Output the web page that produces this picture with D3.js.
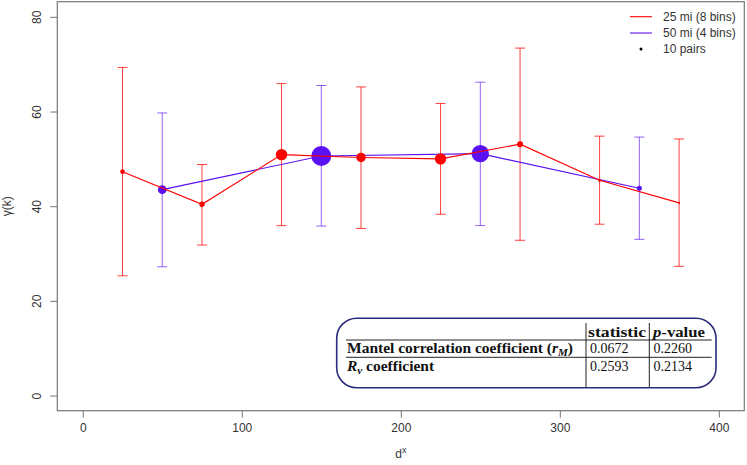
<!DOCTYPE html>
<html>
<head>
<meta charset="utf-8">
<script src="https://cdn.jsdelivr.net/npm/d3@7"></script>
<style>
html,body{margin:0;padding:0;background:#fff;}
svg{display:block;}
</style>
</head>
<body>
<svg id="chart" width="747" height="465"></svg>
<script>
// ---- data ----
const redX = [25, 75, 125, 175, 225, 275, 325, 375];
const redY = [47.3, 40.4, 50.9, 50.3, 50.0, 53.1, 45.5, 40.7];
const redLo = [25.3, 31.8, 35.9, 35.3, 38.3, 32.8, 36.2, 27.3];
const redHi = [69.3, 48.8, 65.9, 65.2, 61.7, 73.4, 54.8, 54.2];
const redPairs = [24, 32, 144, 98, 144, 40, 10, 5];

const blueX = [50, 150, 250, 350];
const blueY = [43.5, 50.6, 51.1, 43.8];
const blueLo = [27.2, 35.8, 35.9, 33.0];
const blueHi = [59.7, 65.5, 66.2, 54.6];
const bluePairs = [82, 444, 336, 28];

const xTicks = [0, 100, 200, 300, 400];
const yTicks = [0, 20, 40, 60, 80];
const legendLabels = ["25 mi (8 bins)", "50 mi (4 bins)", "10 pairs"];
const legendPairs = 10;

const tableHeader = ["statistic", "value"];
const tableStat = ["0.0672", "0.2593"];
const tablePval = ["0.2260", "0.2134"];

// ---- layout ----
const svg = d3.select("#chart");
const L = 57.3, R = 744.3, T = 1.7, B = 410.7;
const x = d3.scaleLinear().domain([-16, 416]).range([L, R]);
const y = d3.scaleLinear().domain([-3.2, 83.2]).range([B, T]);
const rScale = d3.scaleSqrt().domain([0, 10]).range([0, 1.5]).clamp(false);

const RED = "#ff0000", BLUE = "#5a10f2";
const AX = "#777777", TXT = "#333333";
const sans = "'Liberation Sans', Arial, Helvetica, sans-serif";
const serif = "'Liberation Serif', 'Times New Roman', serif";

// axes
const xAxis = svg.append("g").attr("transform", `translate(0,${B})`)
  .call(d3.axisBottom(x).tickValues(xTicks).tickSize(7).tickPadding(6).tickFormat(d3.format("d")));
const yAxis = svg.append("g").attr("transform", `translate(${L},0)`)
  .call(d3.axisLeft(y).tickValues(yTicks).tickSize(7).tickPadding(0).tickFormat(d3.format("d")));
[xAxis, yAxis].forEach(g => {
  g.select(".domain").remove();
  g.selectAll(".tick line").attr("stroke", AX);
  g.selectAll(".tick text").attr("fill", TXT).style("font-family", sans).style("font-size", "12px");
});
xAxis.selectAll(".tick text").attr("dy", "0.71em");
yAxis.selectAll(".tick text")
  .attr("text-anchor", "middle")
  .attr("x", 0)
  .attr("transform", "translate(-20.5,0) rotate(-90)")
  .attr("dy", "0.35em");

// box
svg.append("rect").attr("x", L).attr("y", T).attr("width", R - L).attr("height", B - T)
  .attr("fill", "none").attr("stroke", AX).attr("stroke-width", 1.2);

// axis titles
const xt = svg.append("text").attr("x", x(200)).attr("y", 458).attr("text-anchor", "middle")
  .attr("fill", TXT).style("font-family", sans).style("font-size", "12px");
xt.append("tspan").text("d");
xt.append("tspan").attr("dy", -5).style("font-size", "9px").text("x");

svg.append("text").attr("transform", `translate(11,${y(40)}) rotate(-90)`).attr("text-anchor", "middle")
  .attr("fill", TXT).style("font-family", sans).style("font-size", "12px").text("γ(k)");

// series drawing
function drawBars(xs, lo, hi, color, op) {
  const g = svg.append("g").attr("stroke", color).attr("stroke-width", 1).attr("stroke-opacity", op);
  xs.forEach((xv, i) => {
    g.append("line").attr("x1", x(xv)).attr("x2", x(xv)).attr("y1", y(lo[i])).attr("y2", y(hi[i]));
    g.append("line").attr("x1", x(xv) - 5).attr("x2", x(xv) + 5).attr("y1", y(lo[i])).attr("y2", y(lo[i]));
    g.append("line").attr("x1", x(xv) - 5).attr("x2", x(xv) + 5).attr("y1", y(hi[i])).attr("y2", y(hi[i]));
  });
}
function drawSeries(xs, ys, pairs, color) {
  const line = d3.line().x(d => x(d[0])).y(d => y(d[1]));
  svg.append("path").attr("d", line(xs.map((v, i) => [v, ys[i]])))
    .attr("fill", "none").attr("stroke", color).attr("stroke-width", 1.1);
  svg.append("g").selectAll("circle").data(xs).join("circle")
    .attr("cx", d => x(d)).attr("cy", (d, i) => y(ys[i])).attr("r", (d, i) => rScale(pairs[i]))
    .attr("fill", color);
}
drawBars(redX, redLo, redHi, RED, 0.75);
drawBars(blueX, blueLo, blueHi, BLUE, 0.65);
drawSeries(blueX, blueY, bluePairs, BLUE);
drawSeries(redX, redY, redPairs, RED);

// legend
const lg = svg.append("g").style("font-family", sans).style("font-size", "12px").attr("fill", TXT);
const legY = [16.7, 33, 49];
[RED, BLUE].forEach((c, i) => {
  lg.append("line").attr("x1", 630).attr("x2", 652).attr("y1", legY[i]).attr("y2", legY[i])
    .attr("stroke", c).attr("stroke-width", 1.1);
});
lg.append("circle").attr("cx", 641).attr("cy", legY[2]).attr("r", rScale(legendPairs)).attr("fill", "#000");
legendLabels.forEach((t, i) => {
  lg.append("text").attr("x", 663).attr("y", legY[i]).attr("dy", "0.35em").text(t);
});

// table
const tb = svg.append("g");
tb.append("rect").attr("x", 336.7).attr("y", 318.3).attr("width", 716 - 336.7).attr("height", 387.7 - 318.3)
  .attr("rx", 20).attr("ry", 20).attr("fill", "#fff").attr("stroke", "#2b2b7a").attr("stroke-width", 1.6);
const tline = (x1, y1, x2, y2) => tb.append("line").attr("x1", x1).attr("y1", y1).attr("x2", x2).attr("y2", y2)
  .attr("stroke", "#222").attr("stroke-width", 1);
tline(346, 340, 711.7, 340);
tline(346, 357.3, 711.7, 357.3);
tline(586, 323, 586, 387);
tline(649.3, 323, 649.3, 387);

const ts = tb.append("g").style("font-family", serif).style("font-size", "15.5px").attr("fill", "#111");
ts.append("text").attr("x", 588).attr("y", 336.5).style("font-weight", "bold")
  .attr("textLength", 58).attr("lengthAdjust", "spacingAndGlyphs").text(tableHeader[0]);
const pv = ts.append("text").attr("x", 653).attr("y", 336.5).style("font-weight", "bold")
  .attr("textLength", 52).attr("lengthAdjust", "spacingAndGlyphs");
pv.append("tspan").style("font-style", "italic").text("p");
pv.append("tspan").text("-" + tableHeader[1]);

const r1 = ts.append("text").attr("x", 347).attr("y", 353.3).style("font-weight", "bold");
r1.append("tspan").text("Mantel correlation coefficient (");
r1.append("tspan").style("font-style", "italic").text("r");
r1.append("tspan").style("font-style", "italic").style("font-size", "11px").attr("dy", 3).text("M");
r1.append("tspan").attr("dy", -3).text(")");

const r2 = ts.append("text").attr("x", 347).attr("y", 371).style("font-weight", "bold");
r2.append("tspan").style("font-style", "italic").text("R");
r2.append("tspan").style("font-style", "italic").style("font-size", "11px").attr("dy", 3).text("v");
r2.append("tspan").attr("dy", -3).text(" coefficient");

[tableStat, tablePval].forEach((col, j) => {
  col.forEach((v, i) => {
    ts.append("text").attr("x", j === 0 ? 590 : 653.5).attr("y", [353.3, 371][i])
      .style("font-size", "14px").text(v);
  });
});
</script>
</body>
</html>
